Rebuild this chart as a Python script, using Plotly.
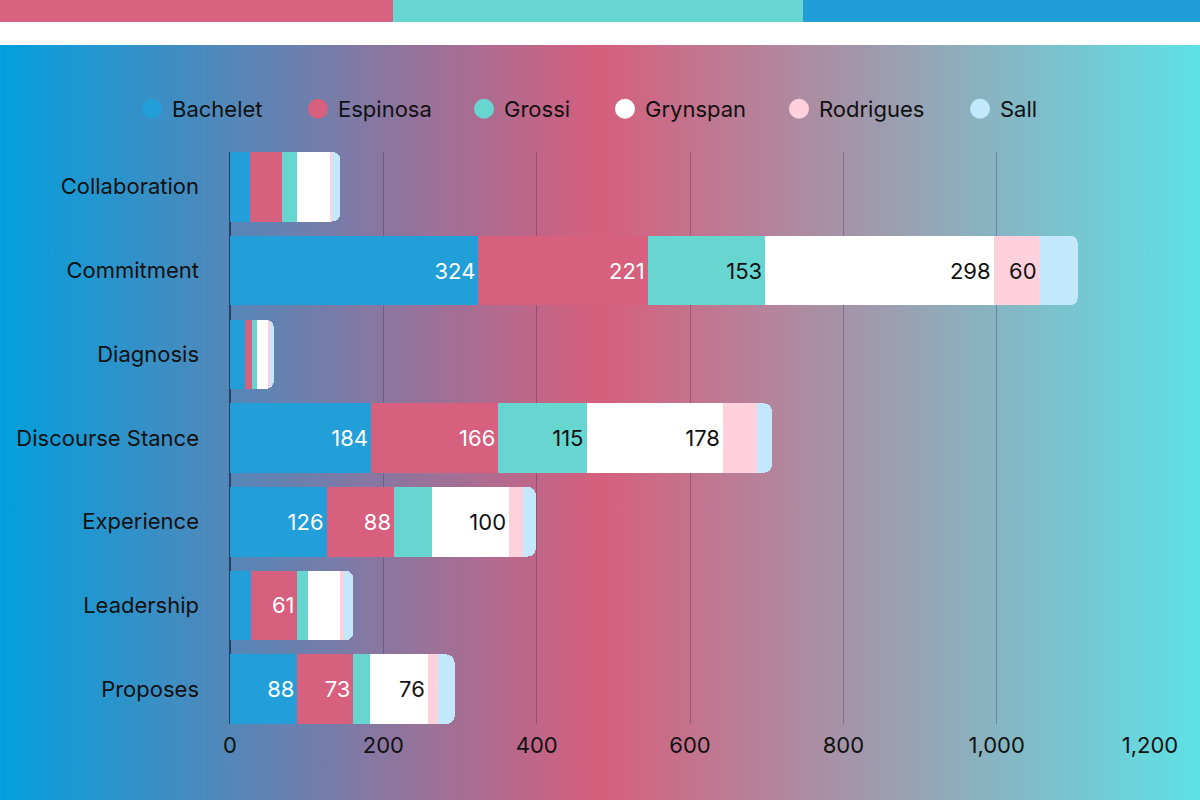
import base64
import plotly.graph_objects as go

categories = ["Collaboration", "Commitment", "Diagnosis", "Discourse Stance",
              "Experience", "Leadership", "Proposes"]
series_names = ["Bachelet", "Espinosa", "Grossi", "Grynspan", "Rodrigues", "Sall"]
bachelet = [26, 324, 19, 184, 126, 27, 88]
espinosa = [42, 221, 10, 166, 88, 61, 73]
grossi = [20, 153, 6, 115, 50, 14, 21]
grynspan = [42, 298, 15, 178, 100, 42, 76]
rodrigues = [3, 60, 2, 44, 18, 5, 13]
sall = [11, 50, 5, 20, 17, 12, 22]
x_ticks = [0, 200, 400, 600, 800, 1000, 1200]

values = [bachelet, espinosa, grossi, grynspan, rodrigues, sall]
colors = ["#229ed8", "#d6607e", "#67d5d0", "#ffffff", "#ffd1dc", "#c3e8fb"]
text_colors = ["#ffffff", "#ffffff", "#111111", "#111111", "#111111", "#111111"]
legend_widths = [121, 121, 96, 129, 136, 40]

W, H = 1200, 800
ML, MR, MT, MB = 230, 50, 152, 76
PW, PH = W - ML - MR, H - MT - MB


def px2x(px):
    return (px - ML) / PW


def py2y(py):
    return (H - MB - py) / PH


FONT = "Inter, 'Noto Sans', sans-serif"
FS = 22

fig = go.Figure()
for name, vals, col, tcol in zip(series_names, values, colors, text_colors):
    labels = [str(v) if v >= 55 else "" for v in vals]
    fig.add_trace(go.Bar(
        name=name, y=categories, x=vals, orientation="h",
        marker=dict(color=col, line=dict(width=0)),
        text=labels, textposition="inside", insidetextanchor="end",
        textangle=0, constraintext="none",
        textfont=dict(family=FONT, size=FS, color=tcol),
        showlegend=False, legendgroup=name, hoverinfo="x+y+name",
    ))

for name, col, lw in zip(series_names, colors, legend_widths):
    fig.add_trace(go.Scatter(
        name=name, x=[None], y=[None], mode="markers",
        marker=dict(symbol="circle", size=16, color=col,
                    line=dict(width=4, color=col)),
        legendgroup=name, showlegend=True, legendwidth=lw,
    ))

svg = ('<svg xmlns="http://www.w3.org/2000/svg" width="1200" height="800" '
       'viewBox="0 0 1200 800" preserveAspectRatio="none"><defs>'
       '<linearGradient id="g" x1="0" y1="0" x2="1" y2="0">'
       '<stop offset="0" stop-color="#02a0de"/>'
       '<stop offset="0.5" stop-color="#d65f7d"/>'
       '<stop offset="1" stop-color="#5ee1e6"/>'
       '</linearGradient></defs>'
       '<rect width="1200" height="800" fill="url(#g)"/></svg>')
src = "data:image/svg+xml;base64," + base64.b64encode(svg.encode()).decode()

shapes = [
    dict(type="rect", xref="paper", yref="paper", layer="below",
         x0=px2x(0), x1=px2x(1200), y0=py2y(45), y1=py2y(22),
         fillcolor="#ffffff", line=dict(width=0)),
    dict(type="rect", xref="paper", yref="paper", layer="below",
         x0=px2x(0), x1=px2x(393), y0=py2y(22), y1=py2y(0),
         fillcolor="#d8627f", line=dict(width=0)),
    dict(type="rect", xref="paper", yref="paper", layer="below",
         x0=px2x(393), x1=px2x(803), y0=py2y(22), y1=py2y(0),
         fillcolor="#67d5d2", line=dict(width=0)),
    dict(type="rect", xref="paper", yref="paper", layer="below",
         x0=px2x(803), x1=px2x(1200), y0=py2y(22), y1=py2y(0),
         fillcolor="#219ed8", line=dict(width=0)),
]

n = len(categories)
fig.update_layout(
    width=W, height=H,
    margin=dict(l=ML, r=MR, t=MT, b=MB, pad=0),
    barmode="stack", bargap=0.17, barcornerradius=8,
    paper_bgcolor="#ffffff", plot_bgcolor="rgba(0,0,0,0)",
    font=dict(family=FONT, size=FS, color="#111111"),
    images=[dict(source=src, xref="paper", yref="paper",
                 x=px2x(0), y=py2y(45), sizex=W / PW, sizey=(H - 45) / PH,
                 xanchor="left", yanchor="top", sizing="stretch",
                 layer="below")],
    shapes=shapes,
    legend=dict(orientation="h", x=px2x(132), xanchor="left",
                y=py2y(109), yanchor="middle",
                font=dict(family=FONT, size=FS, color="#111111"),
                bgcolor="rgba(0,0,0,0)", borderwidth=0),
    xaxis=dict(range=[0, 1200], tickvals=x_ticks, tickformat=",",
               showgrid=True, gridcolor="rgba(40,30,80,0.3)", gridwidth=1,
               zeroline=True, zerolinecolor="rgba(20,40,70,0.75)",
               zerolinewidth=1.5, showline=False, ticks="",
               ticklabelstandoff=6,
               tickfont=dict(family=FONT, size=FS, color="#111111")),
    yaxis=dict(categoryorder="array", categoryarray=categories,
               range=[n - 1 + 0.415, -0.415], showgrid=False,
               zeroline=False, showline=False, ticks="",
               ticklabelstandoff=30,
               tickfont=dict(family=FONT, size=FS, color="#111111")),
    hovermode="closest",
)

fig.write_html("out.html",
               config={"displayModeBar": False},
               post_script="document.body.style.margin='0';"
                           "document.body.style.padding='0';")
